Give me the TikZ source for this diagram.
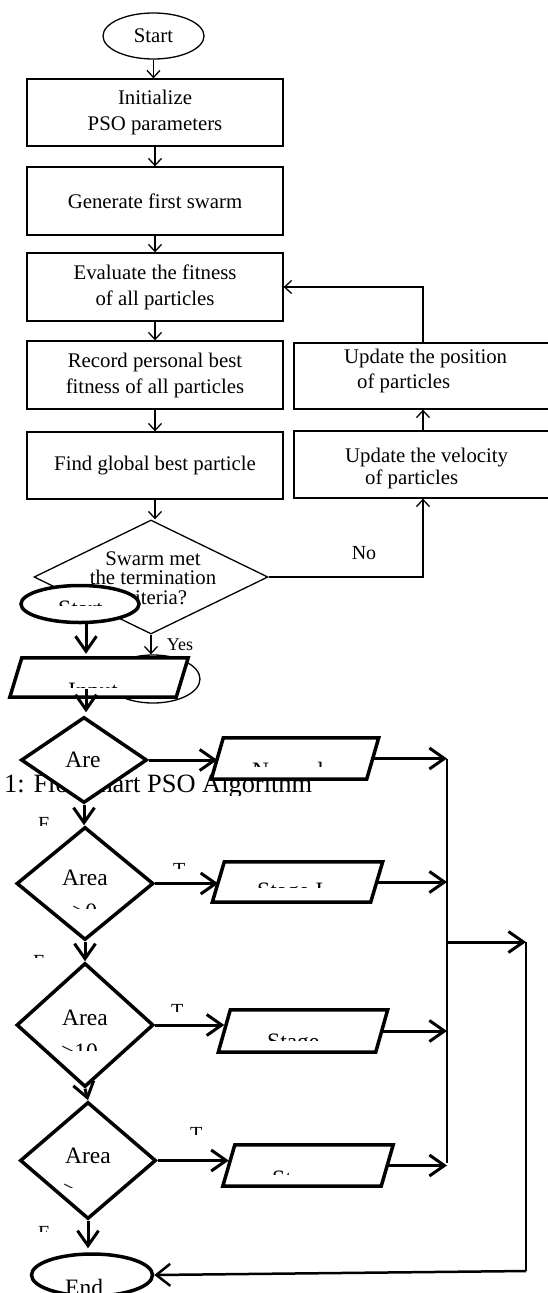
\documentclass[tikz,border=0pt]{standalone}
\usepackage{fontspec}
\setmainfont{Liberation Serif}
\usetikzlibrary{arrows.meta,shapes.geometric,calc}
\newcommand{\paradraw}[1]{\draw[bshape] ($(#1.south west)+(-6,0)$) -- ($(#1.north west)+(6,0)$) -- ($(#1.north east)+(6,0)$) -- ($(#1.south east)+(-6,0)$) -- cycle;}
\begin{document}
\begin{tikzpicture}[x=1pt,y=-1pt,
  tfont/.style={font=\fontsize{20.8}{26}\selectfont},
  tbox/.style={draw, line width=1.3pt, rectangle, inner sep=0pt, align=center, tfont},
  tarr/.style={line width=1.3pt, -{Straight Barb[length=7pt,width=13pt]}},
  bshape/.style={draw, line width=3.5pt, fill=white},
  pnode/.style={inner sep=0pt, rectangle},
  btext/.style={inner sep=0pt, anchor=base west, font=\fontsize{23.5}{28}\selectfont},
  lbl/.style={inner sep=0pt, anchor=base west, font=\fontsize{20}{24}\selectfont},
  barr/.style={line width=3pt, -{Straight Barb[length=15pt,width=21pt]}},
  bline/.style={line width=2pt}]
\clip (0,0) rectangle (548,1293);
\fill[white] (0,0) rectangle (548,1293);

% ---------- upper (PSO) flowchart ----------
\node[tbox, ellipse, minimum width=101pt, minimum height=46pt] (start) at (153.5,36) {Start};
\node[tbox, minimum width=256pt, minimum height=67pt] (init) at (155,112.5) {Initialize\\PSO parameters};
\node[tbox, minimum width=256pt, minimum height=68pt] (gen) at (155,201) {Generate first swarm};
\node[tbox, minimum width=256pt, minimum height=68pt] (eval) at (155,287) {Evaluate the fitness\\of all particles};
\node[tbox, minimum width=256pt, minimum height=68pt] (rec) at (155,375) {Record personal best\\fitness of all particles};
\node[tbox, minimum width=256pt, minimum height=67pt] (find) at (155,465.5) {Find global best particle};
\node[tbox, minimum width=258pt, minimum height=66pt] (pos) at (423,376) {};
\node[inner sep=0pt, anchor=west, align=left, font=\fontsize{20.8}{25}\selectfont] (post) at (344,371) {Update the position\\\hspace{13pt}of particles};
\node[tbox, minimum width=258pt, minimum height=67pt] (vel) at (423,464.5) {};
\node[inner sep=0pt, anchor=west, align=left, font=\fontsize{20.8}{22}\selectfont] (velt) at (345,468) {Update the velocity\\\hspace{20pt}of particles};
\node[draw, diamond, line width=1.3pt, minimum width=234pt, minimum height=114pt, inner sep=0pt] (swarm) at (151,577) {};
\node[inner sep=0pt, align=center, font=\fontsize{20.8}{19.5}\selectfont] (swarmt) at (153,578) {Swarm met\\the termination\\criteria?};
\node[tbox, ellipse, minimum width=94pt, minimum height=48pt] (end1) at (153,679) {End};
\node[inner sep=0pt, font=\fontsize{20}{24}\selectfont] (no) at (364,553) {No};
\node[inner sep=0pt, font=\fontsize{18}{22}\selectfont] (yes) at (180,645) {Yes};

\draw[tarr] (start.south) -- (start.south |- init.north);
\draw[tarr] (init) -- (gen);
\draw[tarr] (gen) -- (eval);
\draw[tarr] (eval) -- (rec);
\draw[tarr] (rec) -- (find);
\draw[tarr] (find.south) -- (find.south |- swarm.north);
\draw[tarr] (swarm.south) -- (swarm.south |- end1.north);
\draw[tarr] (swarm.east) -| (vel.south);
\draw[tarr] (vel) -- (pos);
\draw[tarr] (pos.north) |- (eval.east);

% ---------- caption ----------
\begin{scope}
\clip (0,700) rectangle (548,795);
\node[inner sep=0pt, anchor=base west, font=\fontsize{26.4}{30}\selectfont] (cap) at (4,792) {1: Flowchart PSO Algorithm};
\end{scope}

% ---------- lower flowchart ----------
\node[bshape, ellipse, minimum width=118pt, minimum height=37pt, inner sep=0pt] (start2) at (80,604) {};
\begin{scope}\clip (0,590) rectangle (548,605);
\node[btext] (start2t) at (58,616) {Start};
\end{scope}

\node[pnode, minimum width=166pt, minimum height=39pt] (inp) at (99,677.5) {};
\paradraw{inp}
\begin{scope}\clip (0,670) rectangle (548,687);
\node[btext] (inpt) at (68,698) {Input};
\end{scope}

\node[bshape, diamond, minimum width=126pt, minimum height=86pt, inner sep=0pt] (d1) at (84,760) {};
\node[inner sep=0pt, font=\fontsize{23.5}{28}\selectfont] (d1t) at (83,760) {Are};

\node[pnode, minimum width=155pt, minimum height=41pt] (p1) at (295,758.5) {};
\paradraw{p1}
\begin{scope}\clip (0,750) rectangle (548,766);
\node[btext] (p1t) at (252,778) {Normal};
\end{scope}

\node[bshape, diamond, minimum width=137pt, minimum height=113pt, inner sep=0pt] (d2) at (85,883.5) {};
\node[inner sep=0pt, font=\fontsize{23.5}{28}\selectfont] (d2t) at (85,878) {Area};
\begin{scope}\clip (0,895) rectangle (548,908);
\node[btext] (d2u) at (72,919) {>0};
\end{scope}

\node[pnode, minimum width=158pt, minimum height=40pt] (p2) at (297.5,882) {};
\paradraw{p2}
\begin{scope}\clip (0,875) rectangle (548,887);
\node[btext] (p2t) at (257,898.5) {Stage I};
\end{scope}

\node[bshape, diamond, minimum width=137pt, minimum height=124pt, inner sep=0pt] (d3) at (85,1025) {};
\node[inner sep=0pt, font=\fontsize{23.5}{28}\selectfont] (d3t) at (85,1018) {Area};
\begin{scope}\clip (0,1035) rectangle (548,1050);
\node[btext] (d3u) at (61,1059) {>10};
\end{scope}

\node[pnode, minimum width=157pt, minimum height=42pt] (p3) at (303,1031) {};
\paradraw{p3}
\begin{scope}\clip (0,1025) rectangle (321,1040);
\node[btext] (p3t) at (267,1049) {Stage II};
\end{scope}

\node[bshape, diamond, minimum width=136pt, minimum height=117pt, inner sep=0pt] (d4) at (88,1160.5) {};
\node[inner sep=0pt, font=\fontsize{23.5}{28}\selectfont] (d4t) at (88,1156) {Area};
\begin{scope}\clip (0,1180) rectangle (76,1187);
\node[btext] (d4u) at (63,1197) {>20};
\end{scope}

\node[pnode, minimum width=158pt, minimum height=41pt] (p4) at (308,1165.5) {};
\paradraw{p4}
\begin{scope}\clip (0,1160) rectangle (292,1174);
\node[btext] (p4t) at (272,1186) {Stage III};
\end{scope}

\node[bshape, ellipse, minimum width=121pt, minimum height=42pt, inner sep=0pt] (end2) at (92,1275) {};
\node[btext] (end2t) at (65,1295) {End};

% T / F labels
\begin{scope}\clip (0,810) rectangle (548,825); \node[lbl] (f1) at (38,830) {F}; \end{scope}
\begin{scope}\clip (0,855) rectangle (548,868); \node[lbl] (t1) at (173,876) {T}; \end{scope}
\begin{scope}\clip (0,950) rectangle (548,957.5); \node[lbl] (f2) at (33,968) {F}; \end{scope}
\begin{scope}\clip (0,1000) rectangle (548,1011); \node[lbl] (t2) at (171,1017) {T}; \end{scope}
\begin{scope}\clip (0,1120) rectangle (548,1134); \node[lbl] (t3) at (190,1140) {T}; \end{scope}
\begin{scope}\clip (0,1220) rectangle (548,1231); \node[lbl] (f3) at (38,1239) {F}; \end{scope}

% collector lines
\coordinate (vtop) at (447,759);
\coordinate (vmid) at (447,942);
\coordinate (vbot) at (447,1163);
\coordinate (rtop) at (526,942);
\coordinate (rbot) at (526,1271);
\draw[bline] (vtop) -- (vbot);
\draw[bline] (rtop) -- (rbot);

% connectors
\draw[barr, shorten >=4pt] ($(start2.south)+(6,0)$) -- ($(inp.north)+(-13,0)$);
\draw[barr, shorten >=3pt] ($(inp.south)+(-13,-8)$) -- ($(d1.north)+(2,0)$);
\draw[barr] (d1.south) -- (d1.south |- d2.north);
\draw[barr] (d2.south) -- (d2.south |- d3.north);
\draw[barr] (d3.south) -- (d4.north);
\draw[barr, shorten >=4pt] (d4.south) -- (d4.south |- end2.north);
\draw[barr] (d1.east) -- (d1.east -| p1.west);
\draw[barr] (d2.east) -- (d2.east -| p2.west);
\draw[barr] (d3.east) -- (d3.east -| p3.west);
\draw[barr] (d4.east) -- (d4.east -| p4.west);
\draw[barr] (p1.east) -- (p1.east -| vtop);
\draw[barr] (p2.east) -- (p2.east -| vtop);
\draw[barr] (p3.east) -- (p3.east -| vtop);
\draw[barr] (p4.east) -- (p4.east -| vtop);
\draw[barr] (vmid) -- (rtop);
\draw[line width=2.5pt, -{Straight Barb[length=14pt,width=22pt]}] (rbot) -- (end2.east);
\end{tikzpicture}
\end{document}
